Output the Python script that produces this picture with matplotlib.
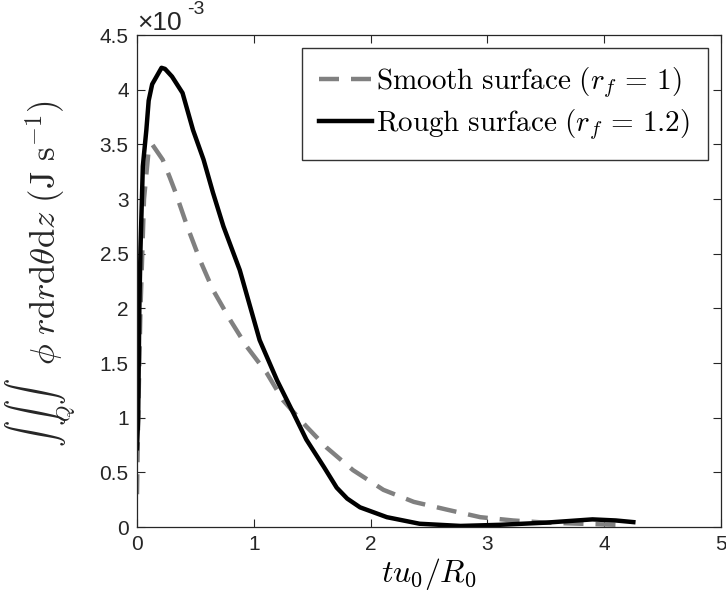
import matplotlib
matplotlib.use("Agg")
import matplotlib.pyplot as plt

# smooth surface (r_f = 1), values in units of 1e-3 J/s
smooth_t = [0.0, 0.01, 0.03, 0.06, 0.10, 0.13, 0.22, 0.28, 0.33, 0.43, 0.54, 0.65,
            0.80, 0.94, 1.11, 1.25, 1.45, 1.62, 1.85, 2.11, 2.37, 2.65, 2.94, 3.22,
            3.5, 3.8, 4.13]
smooth_q = [0.30, 1.00, 2.00, 3.00, 3.45, 3.50, 3.36, 3.20, 3.06, 2.75, 2.44, 2.17,
            1.89, 1.65, 1.41, 1.16, 0.92, 0.73, 0.52, 0.34, 0.23, 0.16, 0.09, 0.06,
            0.04, 0.03, 0.02]

# rough surface (r_f = 1.2)
rough_t = [0.0, 0.01, 0.02, 0.03, 0.05, 0.08, 0.10, 0.13, 0.21, 0.24, 0.30, 0.39, 0.48,
           0.57, 0.65, 0.74, 0.88, 1.05, 1.20, 1.34, 1.45, 1.60, 1.71, 1.80, 1.91, 2.14,
           2.42, 2.77, 3.1, 3.5, 3.9, 4.1, 4.25]
rough_q = [0.72, 1.00, 2.00, 2.55, 3.30, 3.63, 3.90, 4.05, 4.20, 4.19, 4.12, 3.97, 3.63,
           3.36, 3.06, 2.75, 2.35, 1.71, 1.34, 1.04, 0.80, 0.55, 0.36, 0.26, 0.18, 0.09,
           0.03, 0.01, 0.02, 0.04, 0.07, 0.06, 0.045]

plt.rcParams['mathtext.fontset'] = 'cm'
plt.rcParams['font.family'] = ['Liberation Sans', 'DejaVu Sans']

W, H = 726, 609
fig = plt.figure(figsize=(W / 100, H / 100), dpi=100)
ax = fig.add_axes([0.1887, 0.1346, 0.8043, 0.8079])

ax.plot(smooth_t, smooth_q, '--', color=(0.5, 0.5, 0.5), lw=3.2, dashes=(4.5, 2.7),
        label=r'$\mathrm{Smooth\ surface}\ (r_f\,=\,1)$')
ax.plot(rough_t, rough_q, '-', color='k', lw=3.2,
        label=r'$\mathrm{Rough\ surface}\ (r_f\,=\,1.2)$')

ax.set_xlim(0, 5)
ax.set_ylim(0, 4.5)
ax.set_xticks([0, 1, 2, 3, 4, 5])
ax.set_yticks([0, 0.5, 1, 1.5, 2, 2.5, 3, 3.5, 4, 4.5])
ax.set_yticklabels(['0', '0.5', '1', '1.5', '2', '2.5', '3', '3.5', '4', '4.5'])
ax.tick_params(direction='in', top=True, right=True, length=6, width=0.8,
               labelsize=15, colors='#262626', pad=6)
for s in ax.spines.values():
    s.set_linewidth(0.9)
    s.set_color('#262626')

ax.set_xlabel(r'$tu_0/R_0$', fontsize=23, labelpad=1)

# y label built from pieces so the integrals and Q sit like the LaTeX original
fig.text(35 / W, 1 - 412 / H, r'$\int\;\int\;\int$', rotation=90, fontsize=19,
         ha='center', va='center', color='#262626')
fig.text(66 / W, 1 - 413 / H, r'$Q$', rotation=90, fontsize=15,
         ha='center', va='center', color='#262626')
fig.text(45 / W, 1 - 100 / H,
         r'$\phi\ r\mathrm{d}r\mathrm{d}\theta\mathrm{d}z\ (\mathrm{J\ s^{-1}})$',
         rotation=90, fontsize=25, ha='center', va='top', color='#262626')

ax.text(0.0, 1.0, '×10', transform=ax.transAxes, fontsize=19,
        ha='left', va='bottom', color='#262626')
ax.text(0.086, 1.035, '-3', transform=ax.transAxes, fontsize=14,
        ha='left', va='bottom', color='#262626')

leg = ax.legend(loc='upper right', fontsize=21, frameon=True, fancybox=False,
                handlelength=1.8, handletextpad=0.15, borderpad=0.6, labelspacing=0.25,
                borderaxespad=0.45)
leg.get_frame().set_edgecolor('k')
leg.get_frame().set_linewidth(1.0)

fig.savefig('out.png', dpi=100)
